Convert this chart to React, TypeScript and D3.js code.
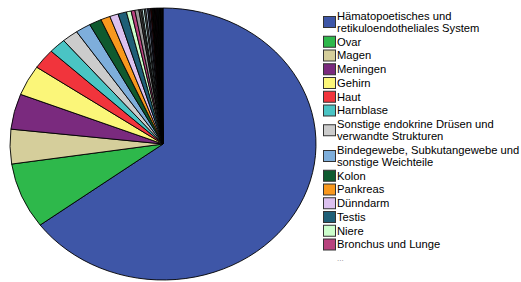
import React, { useEffect, useRef } from 'react';
import * as d3 from 'd3';

// named slices (share in percent)
const organs = [
  'Hämatopoetisches und\nretikuloendotheliales System',
  'Ovar',
  'Magen',
  'Meningen',
  'Gehirn',
  'Haut',
  'Harnblase',
  'Sonstige endokrine Drüsen und\nverwandte Strukturen',
  'Bindegewebe, Subkutangewebe und\nsonstige Weichteile',
  'Kolon',
  'Pankreas',
  'Dünndarm',
  'Testis',
  'Niere',
  'Bronchus und Lunge',
];
const organShares = [64.8, 7.8, 4.1, 4.2, 3.6, 2.4, 1.8, 1.7, 1.6, 1.3, 1.0, 0.9, 0.9, 0.5, 0.4];
const organColors = [
  '#3e56a7', '#2eb84b', '#d5ce9b', '#7a2a7e', '#fbf679', '#f1343c', '#4ac4c4', '#cccccc',
  '#7eaedb', '#0f5a2f', '#f8981e', '#dcc1ef', '#1f5f77', '#ccffcc', '#b8437e',
];

// remaining small slices (shown as "..." in the legend)
const restShares = [
  0.42, 0.22, 0.12, 0.22, 0.16, 0.2, 0.16, 0.14, 0.12, 0.1,
  0.09, 0.09, 0.09, 0.09, 0.09, 0.09, 0.09, 0.09, 0.09, 0.09, 0.09, 0.09,
];
const restColors = [
  '#999999', '#444444', '#e0e0e0', '#c8f0f0', '#888888', '#b0c4de', '#333355', '#7a6a9a', '#880000', '#222222',
  '#111111', '#333333', '#000000', '#660033', '#222222', '#1a1a40', '#000000', '#333333', '#111111', '#000000',
  '#222222', '#000000',
];

const App = () => {
  const ref = useRef<SVGSVGElement>(null);

  useEffect(() => {
    const svg = d3.select(ref.current);
    svg.selectAll('*').remove();

    const values = organShares.concat(restShares);
    const colors = organColors.concat(restColors);

    // pie is slightly stretched horizontally in the original
    const cx = 163, cy = 144, ry = 136, rx = 153;

    const pie = d3.pie<number>().sort(null).value(d => d);
    const arc = d3.arc<d3.PieArcDatum<number>>().innerRadius(0).outerRadius(ry);

    const g = svg.append('g')
      .attr('transform', `translate(${cx},${cy}) scale(${rx / ry},1)`);

    g.selectAll('path')
      .data(pie(values))
      .join('path')
      .attr('d', arc)
      .attr('fill', (d, i) => colors[i])
      .attr('stroke', '#000')
      .attr('stroke-width', 0.9)
      .attr('vector-effect', 'non-scaling-stroke');

    // legend
    const lg = svg.append('g')
      .attr('font-family', '"Liberation Sans", Arial, sans-serif')
      .attr('font-size', 11.2);

    const lineH = 12, gap = 1.75, textX = 337;
    let y = 16;
    organs.forEach((name, i) => {
      const lines = name.split('\n');
      const mid = y + (lines.length - 1) * lineH / 2;
      lg.append('rect')
        .attr('x', 323.5).attr('y', mid - 5.5)
        .attr('width', 12).attr('height', 11)
        .attr('fill', organColors[i])
        .attr('stroke', '#333')
        .attr('stroke-width', 1);
      lines.forEach((ln, j) => {
        lg.append('text')
          .attr('x', textX)
          .attr('y', y + j * lineH)
          .attr('dy', '0.35em')
          .attr('fill', '#000')
          .text(ln);
      });
      y += lines.length * lineH + gap;
    });

    lg.append('text')
      .attr('x', textX)
      .attr('y', y)
      .attr('dy', '0.35em')
      .attr('font-size', 8)
      .attr('fill', '#888')
      .text('...');
  }, []);

  return (
    <div style={{ position: 'absolute', left: 0, top: 0 }}>
      <svg ref={ref} width={521} height={282} style={{ display: 'block' }} />
    </div>
  );
};

export default App;
